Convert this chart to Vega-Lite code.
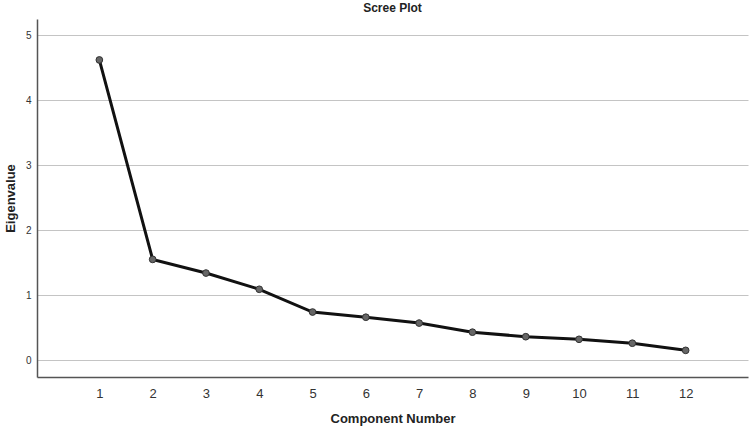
{
  "$schema": "https://vega.github.io/schema/vega-lite/v6.json",
  "width": 711,
  "height": 358,
  "autosize": {"type": "none"},
  "padding": {"left": 37, "top": 19, "right": 2, "bottom": 53},
  "background": "white",
  "title": {"text": "Scree Plot", "font": "Liberation Sans", "fontSize": 12, "fontWeight": "bold", "color": "#222", "offset": 4, "anchor": "middle"},
  "config": {"view": {"stroke": null}, "font": "Liberation Sans"},
  "data": {"values": [
    {"component": 1, "eigenvalue": 4.62},
    {"component": 2, "eigenvalue": 1.55},
    {"component": 3, "eigenvalue": 1.34},
    {"component": 4, "eigenvalue": 1.09},
    {"component": 5, "eigenvalue": 0.74},
    {"component": 6, "eigenvalue": 0.66},
    {"component": 7, "eigenvalue": 0.57},
    {"component": 8, "eigenvalue": 0.43},
    {"component": 9, "eigenvalue": 0.36},
    {"component": 10, "eigenvalue": 0.32},
    {"component": 11, "eigenvalue": 0.26},
    {"component": 12, "eigenvalue": 0.15}
  ]},
  "encoding": {
    "x": {"field": "component", "type": "quantitative", "title": "Component Number",
      "scale": {"domain": [-0.17, 13.17], "nice": false, "zero": false},
      "axis": {"values": [1,2,3,4,5,6,7,8,9,10,11,12], "grid": false, "ticks": false, "labelPadding": 10, "labelFontSize": 13, "labelColor": "#333", "titleFontSize": 13, "titleFontWeight": "bold", "titleColor": "#222", "titlePadding": 12, "domainColor": "#555", "domainWidth": 1.5}},
    "y": {"field": "eigenvalue", "type": "quantitative", "title": "Eigenvalue",
      "scale": {"domain": [-0.26, 5.25], "nice": false, "zero": false},
      "axis": {"values": [0,1,2,3,4,5], "grid": true, "gridColor": "#c4c4c4", "gridWidth": 1, "ticks": false, "labelPadding": 6, "labelFontSize": 10, "labelColor": "#333", "titleFontSize": 13, "titleFontWeight": "bold", "titleColor": "#222", "titlePadding": 8, "domainColor": "#555", "domainWidth": 1.5}}
  },
  "layer": [
    {"mark": {"type": "line", "color": "#111", "strokeWidth": 3}},
    {"mark": {"type": "point", "filled": true, "fill": "#666", "stroke": "#333", "strokeWidth": 1, "size": 45, "opacity": 1}}
  ]
}
